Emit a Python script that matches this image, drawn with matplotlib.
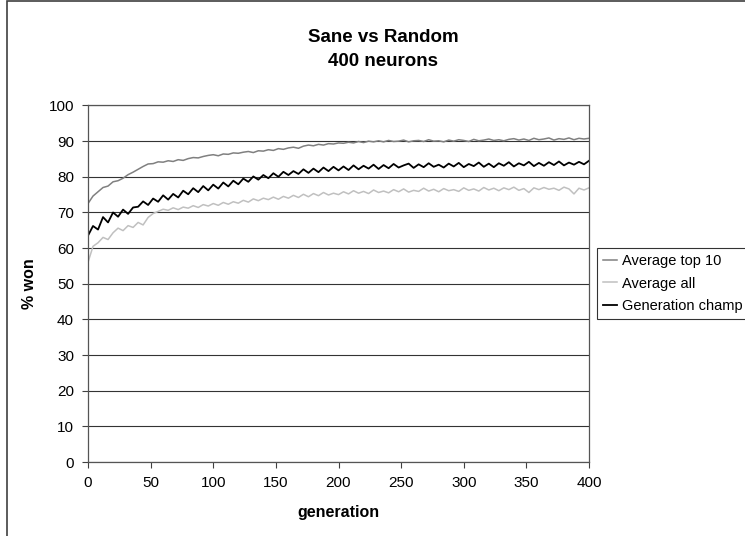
import numpy as np
import matplotlib
matplotlib.use("Agg")
import matplotlib.pyplot as plt
from matplotlib.patches import Rectangle

plt.rcParams["font.family"] = ["Liberation Sans", "DejaVu Sans"]

# generations sampled every 4 steps
generation = np.arange(0, 401, 4)

top10 = [
    72.5, 74.6, 75.8, 77.0, 77.4, 78.6, 78.9, 79.6, 80.6, 81.3,
    82.1, 82.9, 83.6, 83.7, 84.2, 84.1, 84.5, 84.3, 84.8, 84.6,
    85.1, 85.4, 85.3, 85.7, 86.0, 86.2, 85.9, 86.4, 86.3, 86.7,
    86.6, 86.9, 87.1, 86.8, 87.3, 87.2, 87.6, 87.4, 87.9, 87.7,
    88.1, 88.3, 88.0, 88.6, 88.9, 88.7, 89.1, 88.9, 89.3, 89.2,
    89.5, 89.4, 89.7, 89.5, 89.9, 89.6, 90.0, 89.8, 90.1, 89.8,
    90.2, 89.9, 90.0, 90.3, 89.8, 90.1, 90.2, 89.9, 90.4, 90.0,
    90.1, 89.8, 90.3, 90.0, 90.4, 90.2, 89.9, 90.5, 90.1, 90.3,
    90.6, 90.2, 90.4, 90.1, 90.5, 90.7, 90.3, 90.6, 90.2, 90.8,
    90.4, 90.6, 90.9, 90.3, 90.7, 90.5, 90.9, 90.4, 90.8, 90.6,
    90.8]

avg_all = [
    56.0, 60.5, 61.5, 63.0, 62.4, 64.3, 65.6, 64.9, 66.3, 65.8,
    67.2, 66.5, 68.6, 69.7, 70.3, 70.9, 70.6, 71.3, 70.8, 71.5,
    71.2, 71.9, 71.4, 72.2, 71.8, 72.5, 72.0, 72.8, 72.3, 73.0,
    72.6, 73.4, 72.9, 73.8, 73.3, 74.0, 73.6, 74.3, 73.7, 74.5,
    74.0, 74.8, 74.2, 75.1, 74.4, 75.3, 74.7, 75.6, 74.9, 75.4,
    75.0, 75.8, 75.2, 76.1, 75.4, 75.9, 75.3, 76.3, 75.6, 76.0,
    75.5, 76.4, 75.8, 76.6, 75.7, 76.2, 75.9, 76.8, 76.0, 76.5,
    75.8, 76.7, 76.1, 76.4, 75.9, 76.9, 76.2, 76.6, 76.0, 77.0,
    76.3, 76.8, 76.1, 76.9, 76.4, 77.1, 76.2, 76.7, 75.6, 76.9,
    76.4, 77.0, 76.5, 76.8, 76.2, 77.1, 76.6, 75.2, 76.8, 76.3,
    76.9]

champ = [
    63.5, 66.2, 65.2, 68.7, 67.2, 70.0, 68.8, 70.8, 69.6, 71.4,
    71.6, 73.1, 72.1, 73.9, 73.0, 74.8, 73.6, 75.2, 74.2, 76.1,
    75.1, 76.8, 75.7, 77.4, 76.2, 77.8, 76.7, 78.4, 77.3, 78.9,
    77.9, 79.5, 78.6, 80.1, 79.2, 80.5, 79.6, 81.0, 80.0, 81.4,
    80.5, 81.6, 80.8, 82.1, 81.1, 82.3, 81.3, 82.6, 81.6, 82.8,
    81.8, 82.9, 81.9, 83.2, 82.1, 83.1, 82.3, 83.4, 82.2, 83.3,
    82.4, 83.6, 82.6, 83.2, 83.7, 82.5, 83.5, 82.7, 83.8, 82.8,
    83.4, 82.6, 83.7, 82.9, 83.9, 82.7, 83.6, 83.0, 84.0, 82.8,
    83.7, 82.7, 83.8, 83.1, 84.1, 82.9, 83.8, 83.2, 84.2, 83.0,
    83.9, 83.1, 84.1, 83.3, 84.3, 83.2, 84.0, 83.4, 84.2, 83.5,
    84.5]

x_ticks = [0, 50, 100, 150, 200, 250, 300, 350, 400]
y_ticks = [0, 10, 20, 30, 40, 50, 60, 70, 80, 90, 100]


def main():
    fig = plt.figure(figsize=(7.45, 5.36), dpi=100)
    ax = fig.add_axes([88 / 745, 74 / 536, 501 / 745, 356.5 / 536])

    ax.plot(generation, top10, color="#808080", lw=1.1, label="Average top 10")
    ax.plot(generation, avg_all, color="#c0c0c0", lw=1.1, label="Average all")
    ax.plot(generation, champ, color="black", lw=1.3, label="Generation champ")

    ax.set_xlim(0, 400)
    ax.set_ylim(0, 100)
    ax.set_xticks(x_ticks)
    ax.set_yticks(y_ticks)
    ax.tick_params(direction="out", length=4, width=0.8, color="#404040",
                   labelsize=11, pad=6)
    ax.yaxis.grid(True, color="#333333", lw=0.8)
    ax.set_axisbelow(True)
    for side in ["left", "bottom", "top", "right"]:
        ax.spines[side].set_color("#555555")
        ax.spines[side].set_linewidth(0.9)

    ax.set_xlabel("generation", fontsize=11.5, fontweight="bold", labelpad=11)
    ax.set_ylabel("% won", fontsize=11.5, fontweight="bold", labelpad=8)

    fig.text(383 / 745, 1 - 38 / 536, "Sane vs Random", ha="center", va="center",
             fontsize=13.5, fontweight="bold")
    fig.text(383 / 745, 1 - 61 / 536, "400 neurons", ha="center", va="center",
             fontsize=13.5, fontweight="bold")

    leg = fig.legend(loc="upper left", bbox_to_anchor=(597 / 745, 1 - 248 / 536),
                     fontsize=10.5, frameon=True, fancybox=False, handlelength=1.0,
                     handletextpad=0.3, borderpad=0.4, labelspacing=0.6,
                     borderaxespad=0)
    leg.get_frame().set_edgecolor("black")
    leg.get_frame().set_linewidth(0.8)

    # outer chart border (extends past the right and bottom edges)
    fig.patches.append(Rectangle((7 / 745, -0.1), 1.2, 1.1 - 1 / 536,
                                 transform=fig.transFigure, fill=False,
                                 edgecolor="#404040", lw=1.2))

    fig.savefig("out.png", dpi=100)
    plt.close(fig)


main()
